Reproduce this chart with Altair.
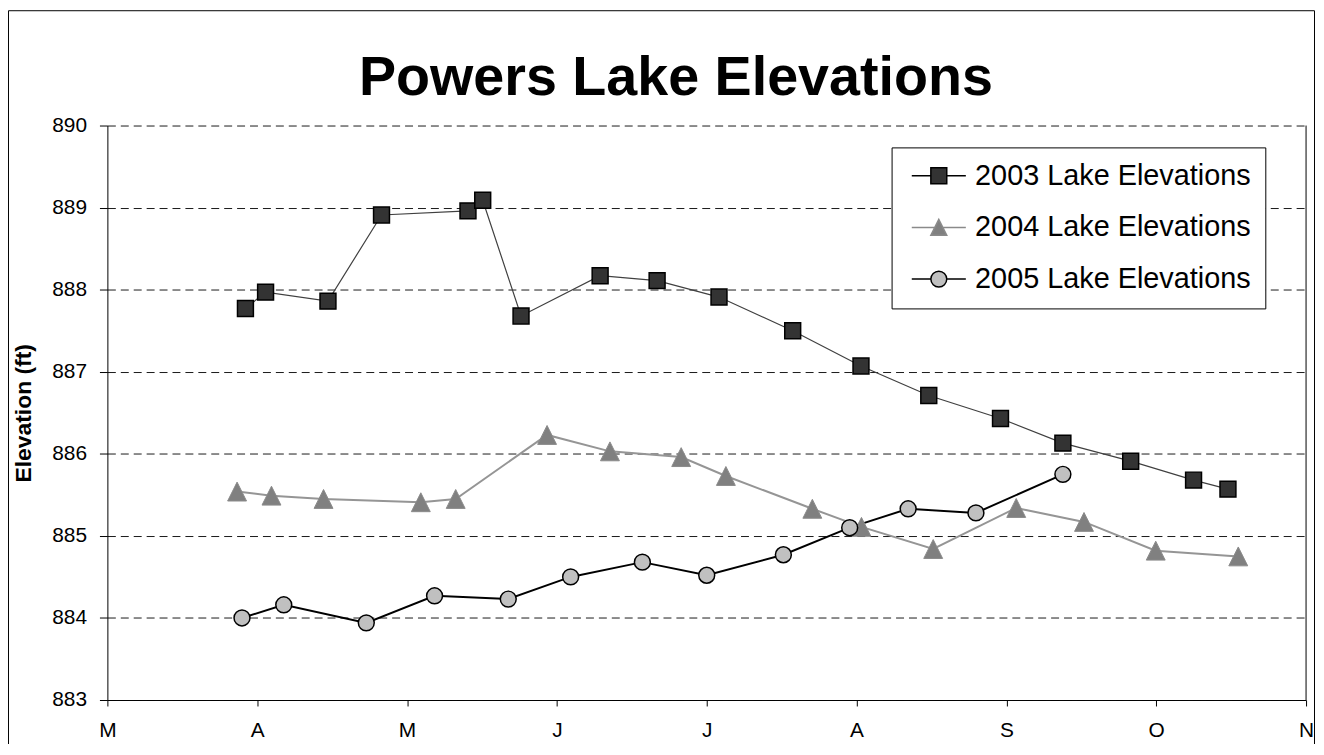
import json
import altair as alt
import pandas as pd

# ---------------- data (day of year, elevation in ft) ----------------
MONTH_LETTERS = ["M", "A", "M", "J", "J", "A", "S", "O", "N"]
TICK_DAYS = [60, 90.5, 121, 151.5, 182, 212.5, 243, 273.5, 304]
Y_TICKS = [883, 884, 885, 886, 887, 888, 889, 890]

TITLE = "Powers Lake Elevations"
SERIES = ["2003 Lake Elevations", "2004 Lake Elevations", "2005 Lake Elevations"]

day_2003 = [88.1, 92.2, 104.9, 115.8, 133.4, 136.4, 144.2, 160.3, 171.9, 184.5,
            199.5, 213.4, 227.2, 241.8, 254.5, 268.3, 281.1, 288.1]
elev_2003 = [887.77, 887.97, 887.86, 888.91, 888.96, 889.09, 887.68, 888.17, 888.11, 887.91,
             887.50, 887.07, 886.71, 886.43, 886.13, 885.91, 885.68, 885.57]

day_2004 = [86.4, 93.4, 104.0, 123.8, 130.9, 149.5, 162.3, 176.8, 185.9, 203.5,
            213.5, 228.1, 245.0, 258.8, 273.4, 290.2]
elev_2004 = [885.54, 885.49, 885.45, 885.41, 885.45, 886.23, 886.03, 885.96, 885.73, 885.33,
             885.11, 884.84, 885.34, 885.17, 884.82, 884.75]

day_2005 = [87.4, 95.9, 112.7, 126.6, 141.6, 154.3, 168.9, 182.0, 197.6, 211.1,
            223.0, 236.8, 254.5]
elev_2005 = [884.00, 884.16, 883.94, 884.27, 884.23, 884.50, 884.68, 884.52, 884.77, 885.10,
             885.33, 885.28, 885.75]

FONT = "Liberation Sans"


def frame(days, elevs, name):
    return pd.DataFrame({"day": days, "elev": elevs, "series": name})


d03 = frame(day_2003, elev_2003, SERIES[0])
d04 = frame(day_2004, elev_2004, SERIES[1])
d05 = frame(day_2005, elev_2005, SERIES[2])
all_df = pd.concat([d03, d04, d05], ignore_index=True)

label_expr = (json.dumps(MONTH_LETTERS).replace('"', "'")
              + "[round((datum.value - 60) / 30.5)]")

x_enc = alt.X(
    "day:Q",
    scale=alt.Scale(domain=[TICK_DAYS[0], TICK_DAYS[-1]], nice=False, zero=False),
    axis=alt.Axis(
        values=TICK_DAYS, labelExpr=label_expr, title=None, grid=False,
        domainColor="black", domainWidth=1, tickColor="black", tickSize=6,
        labelFont=FONT, labelFontSize=21, labelColor="black", labelPadding=14,
        labelFlush=False, labelOverlap=False,
    ),
)
y_enc = alt.Y(
    "elev:Q",
    scale=alt.Scale(domain=[883, 890], nice=False, zero=False),
    axis=alt.Axis(
        values=Y_TICKS, format="d", title="Elevation (ft)",
        titleFont=FONT, titleFontSize=23, titleFontWeight="bold", titleColor="black",
        titlePadding=16,
        domainColor="black", domainWidth=1, tickColor="black", tickSize=8,
        labelFont=FONT, labelFontSize=21, labelColor="black", labelPadding=13,
        grid=True, gridColor="#1a1a1a", gridDash=[8, 5], gridWidth=1, gridOpacity=1,
    ),
)


def line_layer(df, color, width):
    return alt.Chart(df).mark_line(color=color, strokeWidth=width).encode(
        x=x_enc, y=y_enc, order="day:Q")


def point_layer(df, shape, fill, stroke, size, sw):
    return alt.Chart(df).mark_point(
        shape=shape, filled=True, fill=fill, stroke=stroke, strokeWidth=sw,
        size=size, opacity=1, fillOpacity=1,
    ).encode(x=x_enc, y=y_enc)


TRI = "M0,-1L-1,1L1,1Z"

lines = [
    line_layer(d03, "#404040", 1.2),
    line_layer(d04, "#959595", 2),
    line_layer(d05, "#000000", 2),
]
points = [
    point_layer(d03, "square", "#333333", "#000000", 256, 1.5),
    point_layer(d04, TRI, "#808080", "#8a8a8a", 361, 1),
    point_layer(d05, "circle", "#c0c0c0", "#000000", 256, 1.5),
]

LEGEND_PATHS = [
    "M-3.4,0H-1M1,0H3.4M-1,-1H1V1H-1Z",
    "M-3.4,0H-0.5M0.5,0H3.4M0,-1L-1,1L1,1Z",
    "M-3.4,0H-1M1,0H3.4M-1,0A1,1,0,1,1,1,0A1,1,0,1,1,-1,0Z",
]
LEGEND_FILLS = ["#333333", "#808080", "#c0c0c0"]
LEGEND_STROKES = ["#000000", "#8a8a8a", "#000000"]

legend_layer = alt.Chart(all_df).transform_filter("false").mark_point(
    filled=True, size=256, opacity=1, strokeWidth=1.5,
).encode(
    x=x_enc, y=y_enc,
    shape=alt.Shape("series:N", scale=alt.Scale(domain=SERIES, range=LEGEND_PATHS),
                    legend=alt.Legend(title=None)),
    fill=alt.Fill("series:N", scale=alt.Scale(domain=SERIES, range=LEGEND_FILLS),
                  legend=alt.Legend(title=None)),
    stroke=alt.Stroke("series:N", scale=alt.Scale(domain=SERIES, range=LEGEND_STROKES),
                      legend=alt.Legend(title=None)),
)

edge = alt.Chart(pd.DataFrame({"day": [TICK_DAYS[-1]]})).mark_rule(
    color="black", strokeWidth=1
).encode(x=x_enc, y=alt.value(0), y2=alt.value(578))

outer = alt.Chart(pd.DataFrame({"k": [0]})).mark_rect(
    fillOpacity=0, stroke="black", strokeWidth=1
).encode(x=alt.value(-99.5), x2=alt.value(1214.5), y=alt.value(-115.5), y2=alt.value(700))

title = alt.Chart(pd.DataFrame({"t": [TITLE]})).mark_text(
    font=FONT, fontSize=56, fontWeight="bold", color="black",
    align="center", baseline="alphabetic",
).encode(text="t:N", x=alt.value(572), y=alt.value(-31))

chart = alt.layer(
    outer, title, *lines, *points, edge, legend_layer
).properties(
    width=1206, height=578,
    padding={"left": 100, "top": 116, "right": 10, "bottom": 42},
    autosize=alt.AutoSizeParams(type="none"),
    background="white",
).configure_view(
    strokeWidth=0
).configure_legend(
    orient="none", legendX=789, legendY=22,
    strokeColor="black", fillColor="white", padding=14, cornerRadius=0,
    labelFont=FONT, labelFontSize=29, labelColor="black", labelLimit=400,
    symbolSize=256, symbolStrokeWidth=1.5, symbolOffset=19, labelOffset=22,
    rowPadding=22, symbolType="circle",
)

chart.save("out.html", embed_options={"renderer": "svg", "actions": False})
